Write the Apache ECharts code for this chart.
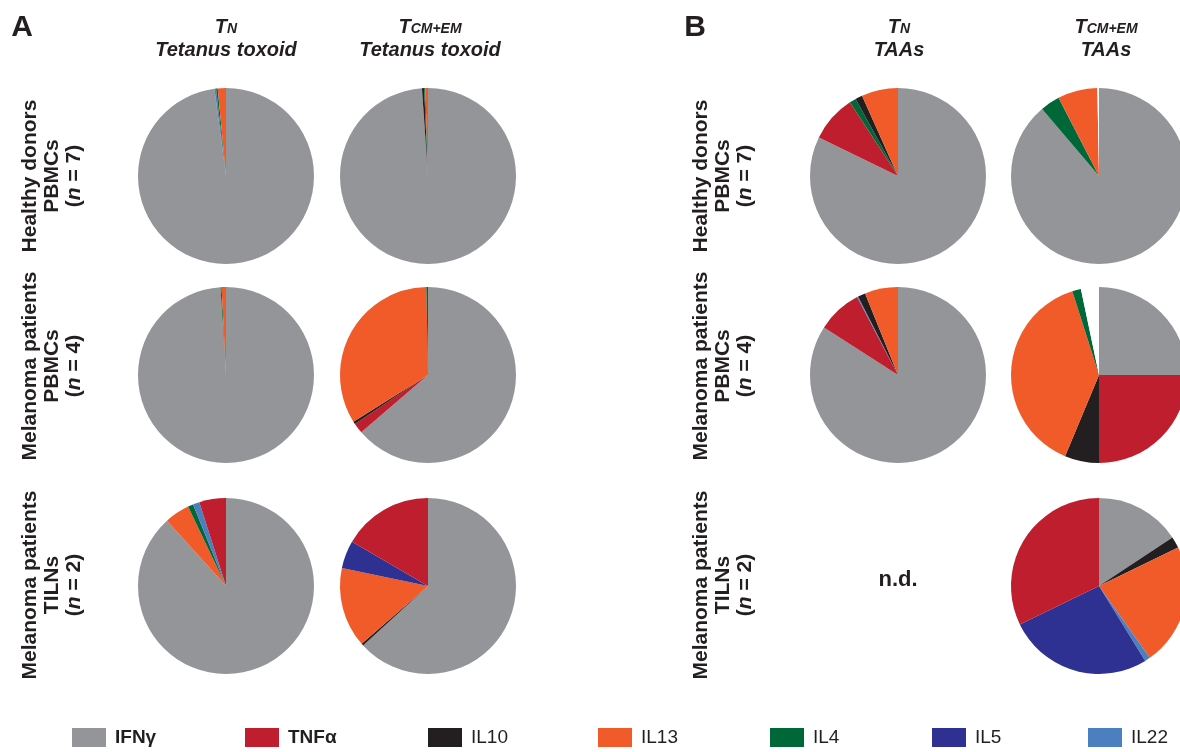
<!DOCTYPE html>
<html>
<head>
<meta charset="utf-8">
<script src="https://cdn.jsdelivr.net/npm/echarts@6/dist/echarts.min.js"></script>
<style>
html,body{margin:0;padding:0;background:#fff;}
#chart{width:1180px;height:752px;}
</style>
</head>
<body>
<div id="chart"></div>
<script>
// ---- data ----
const categories = ['IFNγ', 'TNFα', 'IL10', 'IL13', 'IL4', 'IL5', 'IL22'];
const boldCategories = ['IFNγ', 'TNFα'];

// Each pie: [cytokine, % of response], listed clockwise from 12 o'clock
const pieA_TN_healthy   = [['IFNγ', 97.9], ['IL22', 0.3], ['IL4', 0.3], ['IL13', 1.5]];
const pieA_TCM_healthy  = [['IFNγ', 98.9], ['IL10', 0.4], ['IL4', 0.2], ['IL13', 0.5]];
const pieA_TN_melPBMC   = [['IFNγ', 99.0], ['IL4', 0.2], ['IL13', 0.8]];
const pieA_TCM_melPBMC  = [['IFNγ', 63.7], ['TNFα', 1.9], ['IL10', 0.5], ['IL13', 33.6], ['IL4', 0.3]];
const pieA_TN_melTILN   = [['IFNγ', 88.3], ['IL13', 4.6], ['IL4', 1.0], ['IL22', 1.2], ['TNFα', 4.9]];
const pieA_TCM_melTILN  = [['IFNγ', 63.2], ['IL10', 0.4], ['IL13', 14.7], ['IL5', 5.1], ['TNFα', 16.6]];
const pieB_TN_healthy   = [['IFNγ', 82.2], ['TNFα', 8.6], ['IL4', 1.2], ['IL10', 1.3], ['IL13', 6.7]];
const pieB_TCM_healthy  = [['IFNγ', 88.8], ['IL4', 3.6], ['IL13', 7.3], ['other', 0.3]];
const pieB_TN_melPBMC   = [['IFNγ', 84.1], ['TNFα', 8.2], ['IL22', 0.2], ['IL10', 1.4], ['IL13', 6.1]];
const pieB_TCM_melPBMC  = [['IFNγ', 25.0], ['TNFα', 25.0], ['IL10', 6.3], ['IL13', 38.8], ['IL4', 1.6], ['other', 3.3]];
const pieB_TCM_melTILN  = [['IFNγ', 15.7], ['IL10', 2.1], ['IL13', 22.4], ['IL22', 1.0], ['IL5', 26.6], ['TNFα', 32.2]];

const panelLetters = ['A', 'B'];
const colHeadSub = ['N', 'CM+EM', 'N', 'CM+EM'];
const colHeadAntigen = ['Tetanus toxoid', 'Tetanus toxoid', 'TAAs', 'TAAs'];
const rowLine1 = ['Healthy donors', 'Melanoma patients', 'Melanoma patients'];
const rowLine2 = ['PBMCs', 'PBMCs', 'TILNs'];
const rowN = ['7', '4', '2'];
const notDone = 'n.d.';

// ---- styles ----
const catColors = {
  'IFNγ': '#939598', 'TNFα': '#BE1E2D', 'IL10': '#231F20', 'IL13': '#F15A29',
  'IL4': '#006838', 'IL5': '#2E3192', 'IL22': '#4B7FBF', 'other': '#FFFFFF'
};
const FONT = '"Liberation Sans", Arial, sans-serif';
const colX = [226, 428, 898, 1099];
const rowY = [176, 375, 586];
const R = 88;
const layout = [
  [pieA_TN_healthy, 0, 0], [pieA_TCM_healthy, 1, 0],
  [pieA_TN_melPBMC, 0, 1], [pieA_TCM_melPBMC, 1, 1],
  [pieA_TN_melTILN, 0, 2], [pieA_TCM_melTILN, 1, 2],
  [pieB_TN_healthy, 2, 0], [pieB_TCM_healthy, 3, 0],
  [pieB_TN_melPBMC, 2, 1], [pieB_TCM_melPBMC, 3, 1],
  [pieB_TCM_melTILN, 3, 2]
];

const series = layout.map(([d, c, r], i) => ({
  type: 'pie',
  name: 'pie' + i,
  center: [colX[c], rowY[r]],
  radius: R,
  startAngle: 90,
  clockwise: true,
  silent: true,
  animation: false,
  label: { show: false },
  labelLine: { show: false },
  itemStyle: { borderWidth: 0 },
  emphasis: { disabled: true },
  data: d.map(([n, v]) => ({ name: n, value: v, itemStyle: { color: catColors[n] } }))
}));

const legendX = [72, 245, 428, 598, 770, 932, 1088];
const legends = categories.map((c, i) => ({
  left: legendX[i], top: 728, padding: 0,
  data: [c],
  icon: 'rect', itemWidth: 34, itemHeight: 19, itemGap: 0,
  selectedMode: false,
  textStyle: { fontFamily: FONT, fontSize: 19, color: '#231F20',
    fontWeight: boldCategories.includes(c) ? 'bold' : 'normal', padding: [0, 0, 0, 4] }
}));

const graphics = [];
// panel letters
const letterX = [22, 695];
panelLetters.forEach((t, i) => graphics.push({
  type: 'text', x: letterX[i], y: 28,
  style: { text: t, font: 'bold 30px ' + FONT, fill: '#231F20', align: 'center', verticalAlign: 'middle' }
}));
// column headers
const headX = [226, 430, 899, 1106];
colHeadSub.forEach((s, i) => {
  graphics.push({
    type: 'text', x: headX[i], y: 27,
    style: {
      text: '{t|T}{s|' + s + '}', align: 'center', verticalAlign: 'middle', fill: '#231F20',
      rich: {
        t: { fontFamily: FONT, fontSize: 20, fontWeight: 'bold', fontStyle: 'italic', fill: '#231F20' },
        s: { fontFamily: FONT, fontSize: 14, fontWeight: 'bold', fontStyle: 'italic', fill: '#231F20', padding: [4, 0, 0, 0] }
      }
    }
  });
  graphics.push({
    type: 'text', x: headX[i], y: 50,
    style: { text: colHeadAntigen[i], font: 'italic bold 20px ' + FONT, fill: '#231F20', align: 'center', verticalAlign: 'middle' }
  });
});
// row labels (rotated)
const rowLabelX = [[30, 52, 74], [701, 723, 745]];
const rowLabelY = [176, 366, 585];
rowLabelX.forEach(xs => {
  rowY.forEach((y, r) => {
    const lines = [
      { text: rowLine1[r] },
      { text: rowLine2[r] },
      { text: '({i|n} = ' + rowN[r] + ')' }
    ];
    lines.forEach((ln, k) => graphics.push({
      type: 'text', x: xs[k], y: rowLabelY[r], rotation: Math.PI / 2,
      style: {
        text: ln.text, font: 'bold 21px ' + FONT, fill: '#231F20', align: 'center', verticalAlign: 'middle',
        rich: { i: { fontFamily: FONT, fontSize: 21, fontWeight: 'bold', fontStyle: 'italic', fill: '#231F20' } }
      }
    }));
  });
});
// n.d.
graphics.push({
  type: 'text', x: 898, y: 580,
  style: { text: notDone, font: 'bold 22px ' + FONT, fill: '#231F20', align: 'center', verticalAlign: 'middle' }
});

const chart = echarts.init(document.getElementById('chart'), null, { renderer: 'canvas' });
chart.setOption({
  animation: false,
  backgroundColor: '#ffffff',
  legend: legends,
  series: series,
  graphic: graphics
});
</script>
</body>
</html>
